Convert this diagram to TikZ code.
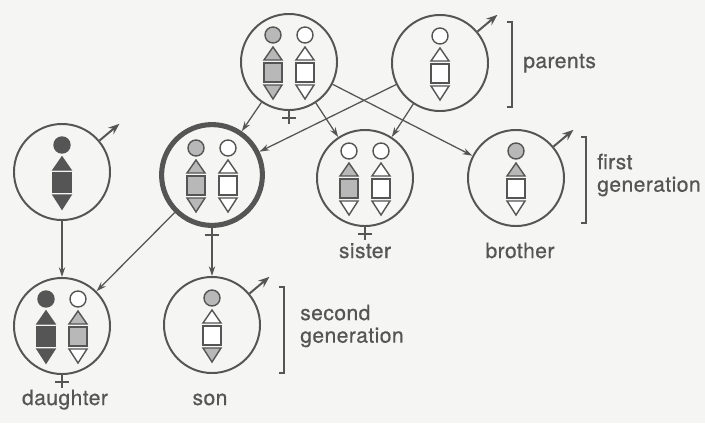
\documentclass[tikz,border=0pt]{standalone}
\usepackage{fontspec}
\setmainfont[LetterSpace=2, FakeBold=0.6]{TeX Gyre Heros}
\usepackage{xcolor}
\usepackage{tikz}
\usetikzlibrary{arrows.meta}

\definecolor{ink}{RGB}{85,85,85}
\definecolor{paper}{RGB}{245,245,243}

% one chromosome column: position, then fills of circle, upper triangle, square, lower triangle
\newcommand{\chromo}[5]{%
    \begin{scope}[shift={#1}]
        \draw[#2] (0,27) circle (8);
        \draw[#3] (-9,2) -- (0,15) -- (9,2) -- cycle;
        \draw[#4] (-9,-1) rectangle (9,-20);
        \draw[#5] (-9,-23) -- (9,-23) -- (0,-37) -- cycle;
    \end{scope}%
}

\tikzset{
    cell/.style={circle, draw=ink, line width=1.4pt, minimum size=2.4cm, inner sep=0pt},
    selfcell/.style={cell, line width=3.6pt, minimum size=2.52cm},
    nofill/.style={draw=ink, fill=white, line width=1pt},
    dotfill/.style={draw=ink, fill=ink!42, line width=1pt},
    solidfill/.style={draw=ink, fill=ink, line width=1pt},
    inherit/.style={->, draw=ink, line width=0.9pt},
    male/.style={-{Stealth[length=8pt, width=6pt]}, draw=ink, line width=1.4pt},
    bracket/.style={draw=ink, line width=1pt},
    tag/.style={text=ink, font=\fontsize{15}{16}\selectfont, inner sep=0pt},
    venus/.pic={\draw[ink, line width=1.2pt] (0,0) -- (0,-13) (-7,-7) -- (7,-7);}
}

\begin{document}
\begin{tikzpicture}[>={Stealth[length=7pt, width=4.5pt]}, x=0.025cm, y=0.025cm]

    % =================================================================
    % 1. PAGE
    % =================================================================
    \fill[paper] (0,0) rectangle (705,-423);
    \useasboundingbox (0,0) rectangle (705,-423);

    % =================================================================
    % 2. CELLS
    % =================================================================
    \node[cell] (mother) at (289,-62) {};
    \node[cell] (father) at (440,-63) {};
    \node[cell] (mate) at (62,-172) {};
    \node[selfcell] (self) at (212,-175) {};
    \node[cell] (sister) at (365,-178) {};
    \node[cell] (brother) at (516,-178) {};
    \node[cell] (daughter) at (62,-326) {};
    \node[cell] (son) at (212,-325) {};

    % =================================================================
    % 3. CHROMOSOMES
    % =================================================================
    \chromo{(273,-62)}{dotfill}{dotfill}{dotfill}{dotfill}
    \chromo{(305,-62)}{nofill}{nofill}{nofill}{nofill}
    \chromo{(440,-63)}{nofill}{nofill}{nofill}{nofill}

    \chromo{(62,-172)}{solidfill}{solidfill}{solidfill}{solidfill}
    \chromo{(196,-175)}{dotfill}{dotfill}{dotfill}{dotfill}
    \chromo{(228,-175)}{nofill}{nofill}{nofill}{nofill}
    \chromo{(349,-178)}{nofill}{dotfill}{dotfill}{nofill}
    \chromo{(381,-178)}{nofill}{nofill}{nofill}{nofill}
    \chromo{(516,-178)}{dotfill}{dotfill}{nofill}{nofill}

    \chromo{(46,-326)}{solidfill}{solidfill}{solidfill}{solidfill}
    \chromo{(78,-326)}{nofill}{dotfill}{dotfill}{nofill}
    \chromo{(212,-325)}{dotfill}{nofill}{nofill}{dotfill}

    % =================================================================
    % 4. SEX SIGNS
    % =================================================================
    \foreach \n in {mother, self, sister, daughter}
        \pic at (\n.south) {venus};
    \foreach \n in {father, mate, brother, son}
        \draw[male] (\n.40) -- ++(40:26);

    % =================================================================
    % 5. INHERITANCE ARROWS
    % =================================================================
    \coordinate (selfstem) at (212,-241);

    \draw[inherit] (mother) -- (self);
    \draw[inherit] (mother) -- (sister);
    \draw[inherit] (mother) -- (brother);
    \draw[inherit] (father) -- (self);
    \draw[inherit] (father) -- (sister);
    \draw[inherit] (mate) -- (daughter);
    \draw[inherit] (self) -- (daughter);
    \draw[inherit] (selfstem) -- (son);

    % =================================================================
    % 6. GENERATION BRACKETS AND NAMES
    % =================================================================
    \draw[bracket] (507,-22) -- (512,-22) -- (512,-107) -- (507,-107);
    \draw[bracket] (581,-137) -- (586,-137) -- (586,-223) -- (581,-223);
    \draw[bracket] (279,-287) -- (284,-287) -- (284,-373) -- (279,-373);

    \node[tag, anchor=base west] (parentstag) at (523,-68) {parents};
    \node[tag, anchor=west, align=left] (firsttag) at (597,-175) {first\\generation};
    \node[tag, anchor=west, align=left] (secondtag) at (300,-326) {second\\generation};

    \node[tag, anchor=base] (sistertag) at (365,-258) {sister};
    \node[tag, anchor=base] (brothertag) at (520,-258) {brother};
    \node[tag, anchor=base] (daughtertag) at (65,-405) {daughter};
    \node[tag, anchor=base] (sontag) at (210,-405) {son};

\end{tikzpicture}
\end{document}
